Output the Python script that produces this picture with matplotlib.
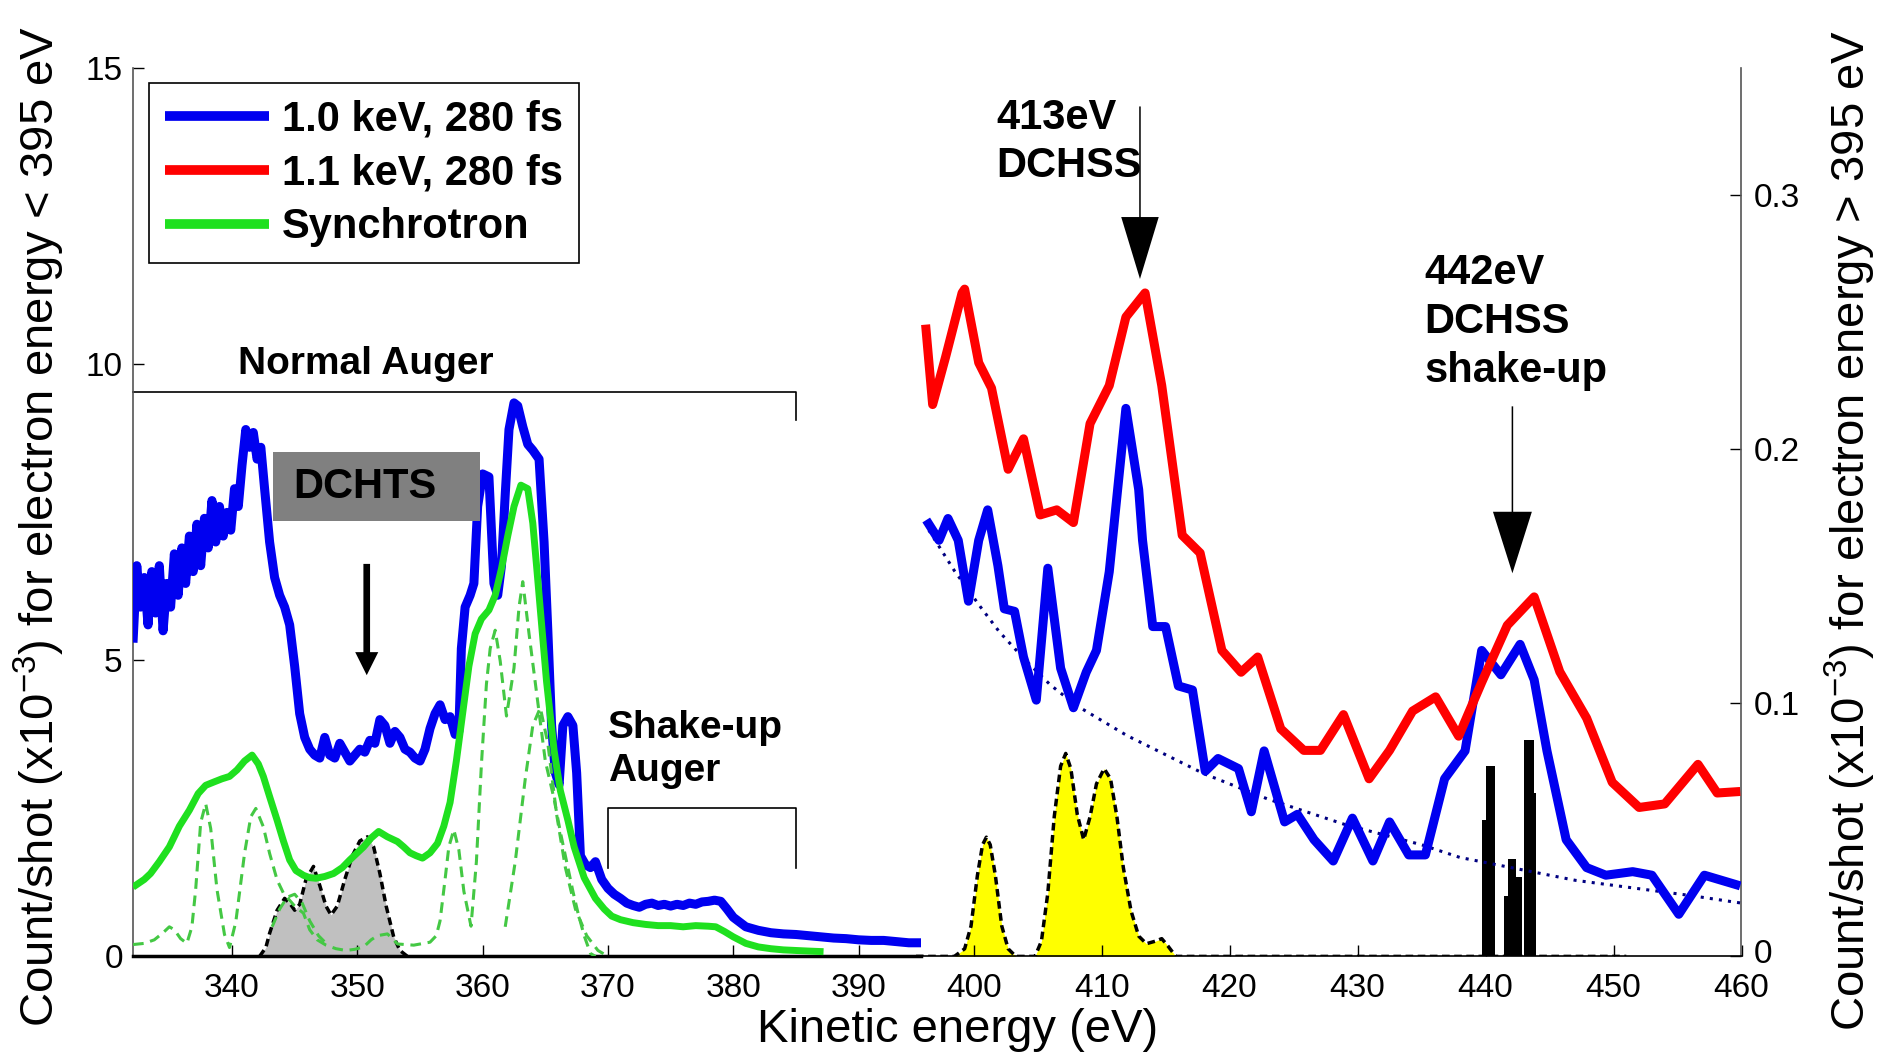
import numpy as np
import matplotlib
matplotlib.use("Agg")
import matplotlib.pyplot as plt
import matplotlib.transforms as mtransforms
from matplotlib.patches import Rectangle

plt.rcParams['font.family'] = ['Liberation Sans', 'DejaVu Sans']
plt.rcParams['mathtext.default'] = 'regular'

# ---------------- data ----------------
# left panel, kinetic energy < 395 eV (left axis, 1e-3 counts/shot)
blue_lo_x = [332.1, 332.4, 332.7, 333.0, 333.3, 333.6, 333.9, 334.2, 334.5, 334.8, 335.1, 335.4, 335.7,
             336.0, 336.3, 336.6, 336.9, 337.2, 337.5, 337.8, 338.1, 338.4, 338.7, 339.0, 339.3, 339.6,
             339.9, 340.2, 340.5, 340.8, 341.1, 341.4, 341.7, 342.0, 342.3, 342.6, 343.0, 343.4, 343.8,
             344.2, 344.6, 345.0, 345.4, 345.8, 346.2, 346.6, 347.0, 347.4, 347.8, 348.2, 348.6, 349.0,
             349.4, 349.8, 350.2, 350.6, 351.0, 351.4, 351.8, 352.2, 352.6, 353.0, 353.4, 353.8, 354.2,
             354.6, 355.0, 355.4, 355.8, 356.2, 356.6, 357.0, 357.4, 357.8, 358.1, 358.3, 358.6, 359.0,
             359.3, 359.6, 360.0, 360.5, 360.9, 361.2, 361.5, 361.8, 362.1, 362.5, 362.8, 363.2, 363.6,
             364.0, 364.5, 364.9, 365.2, 365.5, 365.8, 366.1, 366.4, 366.8, 367.2, 367.5, 367.8, 368.2,
             368.6, 369.0, 369.5, 370.0, 370.5, 371.0, 371.5, 372.0, 372.5, 373.0, 373.5, 374.0, 374.5,
             375.0, 375.5, 376.0, 376.5, 377.0, 377.5, 378.0, 378.5, 379.0, 379.5, 380.0, 380.5, 381.0,
             382.0, 383.0, 384.0, 385.0, 386.0, 387.0, 388.0, 389.0, 390.0, 391.0, 392.0, 393.0, 394.0, 395.0]
blue_lo_y = [5.3, 6.6, 5.9, 6.4, 5.6, 6.5, 5.8, 6.6, 5.5, 6.3, 5.9, 6.8, 6.1,
             6.9, 6.3, 7.1, 6.5, 7.3, 6.6, 7.4, 6.9, 7.7, 7.0, 7.6, 7.1, 7.5,
             7.2, 7.9, 7.6, 8.3, 8.9, 8.6, 8.85, 8.4, 8.6, 7.9, 7.0, 6.4, 6.1,
             5.9, 5.6, 4.9, 4.1, 3.7, 3.5, 3.4, 3.35, 3.7, 3.4, 3.35, 3.6, 3.45,
             3.3, 3.4, 3.5, 3.45, 3.65, 3.6, 4.0, 3.9, 3.6, 3.8, 3.7, 3.5, 3.45,
             3.35, 3.3, 3.5, 3.85, 4.1, 4.25, 4.0, 4.05, 3.75, 3.8, 5.2, 5.9, 6.1,
             6.3, 7.6, 8.15, 8.1, 6.3, 6.1, 6.6, 7.8, 8.9, 9.35, 9.3, 8.95, 8.65,
             8.55, 8.4, 7.0, 5.5, 3.9, 3.1, 2.9, 3.9, 4.05, 3.9, 3.1, 1.7, 1.55,
             1.5, 1.6, 1.3, 1.15, 1.05, 0.98, 0.9, 0.86, 0.83, 0.88, 0.9, 0.86, 0.88,
             0.85, 0.88, 0.86, 0.9, 0.88, 0.92, 0.93, 0.95, 0.93, 0.8, 0.66, 0.58, 0.5,
             0.44, 0.4, 0.38, 0.37, 0.35, 0.33, 0.31, 0.3, 0.28, 0.27, 0.27, 0.25, 0.23, 0.23]

green_x = [332.1, 333.0, 333.5, 334.2, 335.0, 335.8, 336.6, 337.3, 337.9, 338.6, 339.2, 339.8, 340.4,
           341.0, 341.6, 342.1, 342.5, 343.0, 343.6, 344.1, 344.6, 345.1, 345.7, 346.2, 346.7, 347.4,
           348.1, 348.8, 349.4, 350.0, 350.5, 351.1, 351.7, 352.4, 353.2, 353.7, 354.2, 354.7, 355.2,
           355.8, 356.4, 356.9, 357.4, 357.9, 358.4, 358.9, 359.4, 359.9, 360.5, 361.0, 361.5, 362.0,
           362.5, 363.05, 363.6, 364.0, 364.3, 364.6, 365.1, 365.7, 366.2, 366.8, 367.3, 368.1, 369.0,
           369.7, 370.3, 371.0, 372.0, 373.0, 374.0, 375.0, 376.0, 377.0, 378.0, 378.6, 379.3, 380.0,
           381.0, 382.0, 383.0, 384.0, 385.0, 386.0, 387.2]
green_y = [1.17, 1.3, 1.4, 1.6, 1.85, 2.2, 2.47, 2.75, 2.89, 2.95, 3.0, 3.04, 3.15,
           3.3, 3.4, 3.25, 3.04, 2.7, 2.3, 1.95, 1.63, 1.45, 1.37, 1.33, 1.32, 1.35,
           1.4, 1.5, 1.63, 1.75, 1.85, 2.0, 2.11, 2.02, 1.94, 1.85, 1.75, 1.7, 1.66,
           1.75, 1.91, 2.2, 2.6, 3.3, 4.1, 4.9, 5.45, 5.7, 5.85, 6.1, 6.55, 7.1,
           7.6, 7.96, 7.9, 7.32, 6.6, 5.86, 4.64, 3.48, 2.8, 2.3, 1.85, 1.33, 0.98,
           0.8, 0.68, 0.62, 0.57, 0.54, 0.52, 0.52, 0.5, 0.52, 0.51, 0.5, 0.42, 0.33,
           0.22, 0.16, 0.13, 0.11, 0.1, 0.09, 0.08]

# synchrotron fit components (dashed)
comp_a_x = [332.1, 333.0, 333.8, 334.5, 335.0, 335.4, 335.9, 336.4, 336.8, 337.1, 337.5, 337.9, 338.3,
            338.8, 339.4, 339.8, 340.3, 341.0, 341.5, 341.9, 342.5, 343.0, 343.6, 344.1, 345.0, 345.7,
            346.2, 346.8, 347.5, 348.3, 349.1, 349.8, 350.5, 351.1, 351.6, 352.4, 352.8, 353.2, 354.5,
            355.8, 356.3, 356.6, 357.0, 357.3, 357.7, 358.1, 358.5, 359.07, 359.5, 359.9, 360.3, 360.6,
            361.0, 361.4, 361.9, 362.5, 362.9, 363.2, 363.7, 364.4, 365.0, 365.7, 366.2, 366.8, 367.2,
            367.6, 368.1, 368.6, 369.0]
comp_a_y = [0.2, 0.22, 0.28, 0.4, 0.5, 0.45, 0.3, 0.22, 0.5, 1.13, 2.26, 2.58, 2.16,
            1.13, 0.37, 0.15, 0.58, 1.74, 2.36, 2.5, 2.19, 1.74, 1.29, 1.07, 0.85, 0.73,
            0.45, 0.28, 0.19, 0.13, 0.1, 0.12, 0.16, 0.28, 0.35, 0.38, 0.3, 0.21, 0.19,
            0.24, 0.35, 0.6, 1.3, 1.85, 2.14, 1.8, 1.1, 0.51, 1.6, 3.24, 4.6, 5.2,
            5.51, 4.99, 4.06, 4.87, 5.9, 6.33, 5.45, 4.29, 3.3, 2.66, 2.1, 1.5, 1.1,
            0.74, 0.35, 0.05, 0.0]
comp_b_x = [343.2, 343.8, 344.4, 345.0, 345.6, 346.2, 346.9, 347.6, np.nan,
            361.8, 362.6, 363.4, 364.0, 364.6, 365.2, 365.9, 366.6, 367.4, 368.3, 369.2, 370.0]
comp_b_y = [0.5, 0.8, 1.0, 1.05, 0.9, 0.6, 0.35, 0.2, np.nan,
            0.5, 1.6, 3.0, 3.9, 4.2, 3.6, 2.4, 1.5, 0.8, 0.35, 0.1, 0.0]

# DCHTS fit (grey)
dchts_x = [342.2, 342.7, 343.0, 343.6, 344.2, 344.6, 345.0, 345.4, 345.9, 346.5, 347.0, 347.5,
           347.9, 348.4, 349.0, 349.6, 350.2, 350.8, 351.3, 351.8, 352.3, 352.9, 353.4, 354.0]
dchts_y = [0.0, 0.15, 0.39, 0.78, 0.98, 0.9, 0.78, 0.88, 1.3, 1.52, 1.2, 0.85,
           0.7, 0.85, 1.3, 1.7, 1.95, 2.02, 1.85, 1.4, 0.85, 0.33, 0.1, 0.0]

# right panel, kinetic energy > 395 eV (right axis, 1e-3 counts/shot)
red_x = [396.25, 396.8, 397.8, 399.1, 399.3, 400.4, 401.4, 402.7, 403.9, 405.2, 406.5, 407.8, 409.1,
         410.6, 411.9, 413.4, 414.7, 416.3, 417.7, 419.4, 420.9, 422.2, 424.0, 425.8, 427.1, 428.9,
         430.9, 432.5, 434.3, 436.1, 437.9, 439.7, 441.7, 443.8, 445.8, 447.9, 449.9, 452.0, 454.0,
         456.6, 458.1, 459.9]
red_y = [0.249, 0.2175, 0.236, 0.2615, 0.263, 0.234, 0.224, 0.192, 0.204, 0.174, 0.176, 0.171, 0.21,
         0.225, 0.252, 0.2615, 0.225, 0.166, 0.159, 0.1206, 0.112, 0.118, 0.0897, 0.0812, 0.0812, 0.0953,
         0.07, 0.0812, 0.0967, 0.1023, 0.0868, 0.108, 0.1305, 0.1417, 0.1122, 0.0939, 0.0686, 0.0587, 0.0601,
         0.0757, 0.0644, 0.065]

blue_hi_x = [396.3, 397.3, 398.0, 398.8, 399.6, 400.4, 401.1, 401.9, 402.4, 403.2, 403.9, 404.9, 405.8,
             406.8, 407.8, 408.8, 409.6, 410.6, 411.9, 412.9, 413.2, 414.0, 415.0, 416.0, 417.1, 418.1,
             419.1, 420.7, 421.7, 422.7, 424.3, 425.3, 426.6, 428.1, 429.6, 431.2, 432.5, 434.0, 435.3,
             436.8, 438.4, 439.7, 441.2, 442.7, 443.8, 444.8, 446.3, 447.9, 449.4, 451.5, 453.0, 455.1,
             457.1, 459.9]
blue_hi_y = [0.172, 0.164, 0.1726, 0.164, 0.14, 0.164, 0.176, 0.154, 0.137, 0.136, 0.118, 0.101, 0.153,
             0.1136, 0.098, 0.112, 0.1206, 0.1516, 0.216, 0.184, 0.164, 0.13, 0.13, 0.1066, 0.105, 0.073,
             0.078, 0.074, 0.057, 0.081, 0.053, 0.056, 0.046, 0.0376, 0.0545, 0.0376, 0.053, 0.04, 0.04,
             0.07, 0.081, 0.1206, 0.111, 0.123, 0.109, 0.081, 0.046, 0.035, 0.032, 0.0334, 0.032, 0.0166,
             0.032, 0.0278]

# background (dotted)
bg_x = [396.5, 397.5, 398.5, 399.5, 400.5, 402.0, 404.0, 406.0, 408.0, 410.0, 412.0, 414.0, 416.0,
        418.0, 420.0, 423.0, 426.0, 429.0, 432.0, 435.0, 438.0, 441.0, 444.0, 447.0, 450.0, 453.0,
        456.0, 460.0]
bg_y = [0.168, 0.16, 0.152, 0.145, 0.138, 0.128, 0.117, 0.107, 0.099, 0.093, 0.087, 0.082, 0.077,
        0.072, 0.068, 0.062, 0.057, 0.052, 0.048, 0.044, 0.039, 0.036, 0.033, 0.03, 0.028, 0.026,
        0.024, 0.021]

# DCHSS fit (yellow)
dchss_x = [395.5, 398.5, 399.3, 399.8, 400.3, 400.7, 401.0, 401.3, 401.7, 402.2, 402.7, 403.3, 404.8,
           405.3, 405.8, 406.3, 406.8, 407.2, 407.6, 408.1, 408.6, 409.1, 409.6, 410.2, 410.7, 411.2,
           411.7, 412.3, 412.9, 413.5, 414.2, 414.7, 415.2, 415.8, 451.0]
dchss_y = [0.0, 0.0, 0.003, 0.012, 0.032, 0.044, 0.047, 0.044, 0.032, 0.012, 0.003, 0.0, 0.0,
           0.006, 0.025, 0.055, 0.075, 0.08, 0.074, 0.056, 0.046, 0.055, 0.068, 0.074, 0.07, 0.055,
           0.035, 0.018, 0.008, 0.005, 0.006, 0.007, 0.004, 0.0, 0.0]

# DCHSS shake-up lines (black bars)
bar_left = [439.70, 440.01, 441.44, 441.73, 442.38, 443.02, 443.78]
bar_right = [440.01, 440.73, 441.73, 442.38, 442.82, 443.78, 443.94]
bar_height = [0.0537, 0.0751, 0.0238, 0.0385, 0.0314, 0.0852, 0.0643]

legend_labels = ["1.0 keV, 280 fs", "1.1 keV, 280 fs", "Synchrotron"]

# ---------------- figure ----------------
W, H = 1881, 1057
fig = plt.figure(figsize=(W / 100, H / 100), dpi=100)


def px_box(x0, x1, y_top, y_bot):
    return [x0 / W, 1 - y_bot / H, (x1 - x0) / W, (y_bot - y_top) / H]


ax1 = fig.add_axes(px_box(132.5, 921.3, 68.4, 956.4))
ax2 = fig.add_axes(px_box(909.6, 1741.5, 68.4, 956.4))
for ax in (ax1, ax2):
    ax.patch.set_visible(False)

BLUE, RED, GREEN = '#0000f0', '#ff0000', '#1fe01f'
dash = (0, (2.2, 1.3))

# left panel
ax1.fill_between(dchts_x, dchts_y, 0, color='#c0c0c0', lw=0, zorder=1)
ax1.plot(dchts_x, dchts_y, color='black', lw=2.5, ls=dash, zorder=2)
l_blue, = ax1.plot(blue_lo_x, blue_lo_y, color=BLUE, lw=6.5, zorder=3, solid_capstyle='butt')
l_green, = ax1.plot(green_x, green_y, color=GREEN, lw=5, zorder=4, solid_capstyle='butt')
ax1.plot(comp_a_x, comp_a_y, color='#44c844', lw=2.2, ls=(0, (3.5, 2.2)), zorder=5)
ax1.plot(comp_b_x, comp_b_y, color='#44c844', lw=2.2, ls=(0, (3.5, 2.2)), zorder=5)

# right panel
ax2.fill_between(dchss_x, dchss_y, 0, color='#ffff00', lw=0, zorder=1)
ax2.plot(dchss_x, dchss_y, color='black', lw=2.5, ls=dash, zorder=2)
ax2.bar(bar_left, bar_height, width=np.subtract(bar_right, bar_left), align='edge',
        color='black', lw=0, zorder=3)
ax2.plot(bg_x, bg_y, color='#000080', lw=2.2, ls=(0, (1, 2)), zorder=4)
ax2.plot(blue_hi_x, blue_hi_y, color=BLUE, lw=6.5, zorder=5, solid_capstyle='butt')
l_red, = ax2.plot(red_x, red_y, color=RED, lw=6.5, zorder=6, solid_capstyle='butt')

# axes
ax1.set_xlim(332.06, 395)
ax1.set_ylim(0, 15)
ax1.set_xticks(range(340, 391, 10))
ax1.set_yticks([0, 5, 10, 15])
ax1.tick_params(axis='x', direction='in', length=8, width=1, labelsize=24, pad=12)
ax1.tick_params(axis='y', direction='in', length=8, width=1, labelsize=24, pad=7)
for s in ('top', 'right'):
    ax1.spines[s].set_visible(False)
ax1.spines['left'].set_color('#555555')
ax1.spines['left'].set_linewidth(1.2)
ax1.spines['bottom'].set_linewidth(2.5)

ax2.set_xlim(395, 460)
ax2.set_ylim(0, 0.35)
ax2.set_xticks(range(400, 461, 10))
ax2.yaxis.tick_right()
ax2.set_yticks([0, 0.1, 0.2, 0.3])
ax2.set_yticklabels(['0', '0.1', '0.2', '0.3'])
ax2.tick_params(axis='x', direction='in', length=8, width=1, labelsize=24, pad=12)
ax2.tick_params(axis='y', direction='in', length=8, width=1, labelsize=24, pad=9)
for s in ('top', 'left'):
    ax2.spines[s].set_visible(False)
ax2.spines['right'].set_color('#555555')
ax2.spines['right'].set_linewidth(1.2)
ax2.spines['bottom'].set_linewidth(1.2)
# nudge the right-hand "0" up a little so it clears the "460" below it
zero_lbl = ax2.get_yticklabels()[0]
zero_lbl.set_transform(zero_lbl.get_transform() +
                       mtransforms.ScaledTranslation(0, 5 / 100, fig.dpi_scale_trans))

# legend
leg = ax1.legend([l_blue, l_red, l_green], legend_labels, loc='upper left',
                 bbox_to_anchor=(148.7 / W, 1 - 83.3 / H), bbox_transform=fig.transFigure,
                 prop={'size': 30, 'weight': 'bold'}, fancybox=False, framealpha=1,
                 edgecolor='black', borderpad=0.38, handlelength=2.5, handletextpad=0.32,
                 labelspacing=0.34, borderaxespad=0)
leg.get_frame().set_linewidth(1.2)
for ln in leg.get_lines():
    ln.set_linewidth(7)

# annotations, left panel
ax1.plot([332.06, 385, 385], [9.53, 9.53, 9.06], color='black', lw=1.2, clip_on=False)
ax1.text(350.66, 10.0, 'Normal Auger', fontsize=28, fontweight='bold', ha='center', va='center')
ax1.plot([370, 370, 385, 385], [1.5, 2.5, 2.5, 1.5], color='black', lw=1.2)
ax1.text(370.0, 3.5, 'Shake-up\nAuger', fontsize=28, fontweight='bold', ha='left', va='center',
         linespacing=1.25)
ax1.add_patch(Rectangle((343.25, 7.35), 16.55, 1.17, facecolor='#808080', edgecolor='none', zorder=6))
ax1.text(344.85, 7.93, 'DCHTS', fontsize=30, fontweight='bold', ha='left', va='center', zorder=7)
ax1.annotate('', xy=(350.75, 4.75), xytext=(350.75, 6.63),
             arrowprops=dict(arrowstyle='simple,head_length=1.66,head_width=1.66,tail_width=0.48',
                             mutation_scale=10, fc='black', ec='none', lw=0,
                             shrinkA=0, shrinkB=0))

# annotations, right panel
ax2.text(401.8, 0.321, '413eV\nDCHSS', fontsize=30, fontweight='bold', ha='left', va='center',
         linespacing=1.25)
ax2.annotate('', xy=(413.0, 0.267), xytext=(413.0, 0.335),
             arrowprops=dict(arrowstyle='simple,head_length=4.46,head_width=2.7,tail_width=0.11',
                             mutation_scale=10, fc='black', ec='none', lw=0,
                             shrinkA=0, shrinkB=0))
ax2.text(435.2, 0.250, '442eV\nDCHSS\nshake-up', fontsize=30, fontweight='bold', ha='left',
         va='center', linespacing=1.3)
ax2.annotate('', xy=(442.1, 0.151), xytext=(442.1, 0.2168),
             arrowprops=dict(arrowstyle='simple,head_length=4.43,head_width=2.8,tail_width=0.11',
                             mutation_scale=10, fc='black', ec='none', lw=0,
                             shrinkA=0, shrinkB=0))

# axis labels
fig.text(0.021, 0.5024, 'Count/shot (x10$^{-3}$) for electron energy < 395 eV', rotation=90,
         fontsize=34, ha='center', va='center')
fig.text(0.9836, 0.4986, 'Count/shot (x10$^{-3}$) for electron energy > 395 eV', rotation=90,
         fontsize=34, ha='center', va='center')
fig.text(0.509, 0.0259, 'Kinetic energy (eV)', fontsize=34, ha='center', va='center')

fig.savefig('out.png', dpi=100, facecolor='white')
